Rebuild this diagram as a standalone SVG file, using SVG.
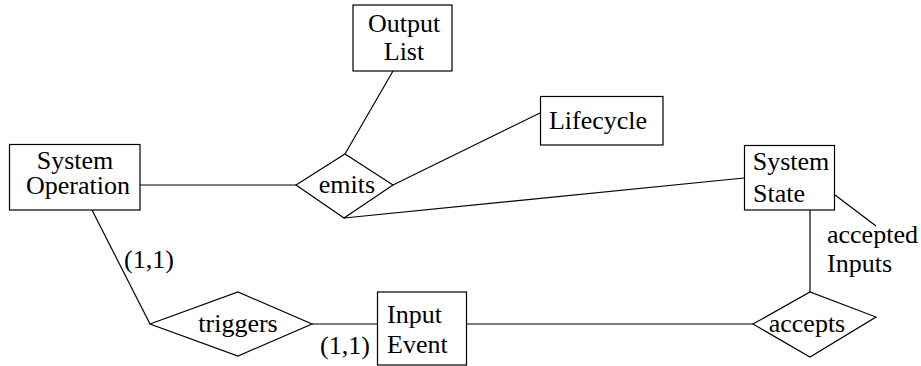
<svg xmlns="http://www.w3.org/2000/svg" width="921" height="366" viewBox="0 0 921 366">
<style>
.box{fill:#fff;stroke:#000;stroke-width:1.2}
.dia{fill:#fff;stroke:#000;stroke-width:1.2}
.ln{stroke:#000;stroke-width:1.2;fill:none}
text{font-family:"Liberation Serif",Tinos,"Times New Roman",Times,serif;font-size:26px;fill:#000}
.m{text-anchor:middle}
</style>
<rect width="921" height="366" fill="#fff"/>
<g id="connectors">
<line class="ln" x1="393" y1="71" x2="345" y2="154"/>
<line class="ln" x1="393" y1="185" x2="540" y2="113"/>
<line class="ln" x1="140" y1="185" x2="296" y2="185"/>
<line class="ln" x1="344" y1="218" x2="744" y2="178"/>
<line class="ln" x1="92" y1="210" x2="150" y2="324"/>
<line class="ln" x1="312" y1="324" x2="377.5" y2="324"/>
<line class="ln" x1="466.5" y1="324" x2="753" y2="324"/>
<line class="ln" x1="810" y1="210" x2="810" y2="292"/>
<line class="ln" x1="835" y1="195" x2="876" y2="226"/>
</g>
<g id="output-list">
<rect class="box" x="353" y="5" width="99" height="66"/>
<text class="m" x="404" y="32" font-family="Liberation Serif">Output</text>
<text class="m" x="404" y="60" font-family="Liberation Serif">List</text>
</g>
<g id="lifecycle">
<rect class="box" x="540.5" y="96.5" width="122.5" height="48.5"/>
<text class="m" x="598" y="129">Lifecycle</text>
</g>
<g id="system-operation">
<rect class="box" x="9.5" y="144.5" width="130.5" height="65.5"/>
<text class="m" x="75" y="169">System</text>
<text class="m" x="78" y="194">Operation</text>
</g>
<g id="system-state">
<rect class="box" x="744.5" y="145.5" width="90" height="64.5"/>
<text class="m" x="791" y="170">System</text>
<text x="753" y="202">State</text>
</g>
<g id="emits">
<polygon class="dia" points="296,185 345,154 393,185 344,218"/>
<text class="m" x="347" y="193">emits</text>
</g>
<g id="triggers">
<polygon class="dia" points="150,324 238,292 312,324 238,356"/>
<text class="m" x="238" y="332">triggers</text>
</g>
<g id="input-event">
<rect class="box" x="377.5" y="292" width="89" height="73"/>
<text x="387" y="323">Input</text>
<text x="387" y="353">Event</text>
</g>
<g id="accepts">
<polygon class="dia" points="753,324 810,292 876,317 810,357"/>
<text class="m" x="807" y="332">accepts</text>
</g>
<g id="labels">
<text x="124" y="268">(1,1)</text>
<text x="320" y="354">(1,1)</text>
<text x="827" y="243">accepted</text>
<text x="827" y="272">Inputs</text>
</g>
</svg>
